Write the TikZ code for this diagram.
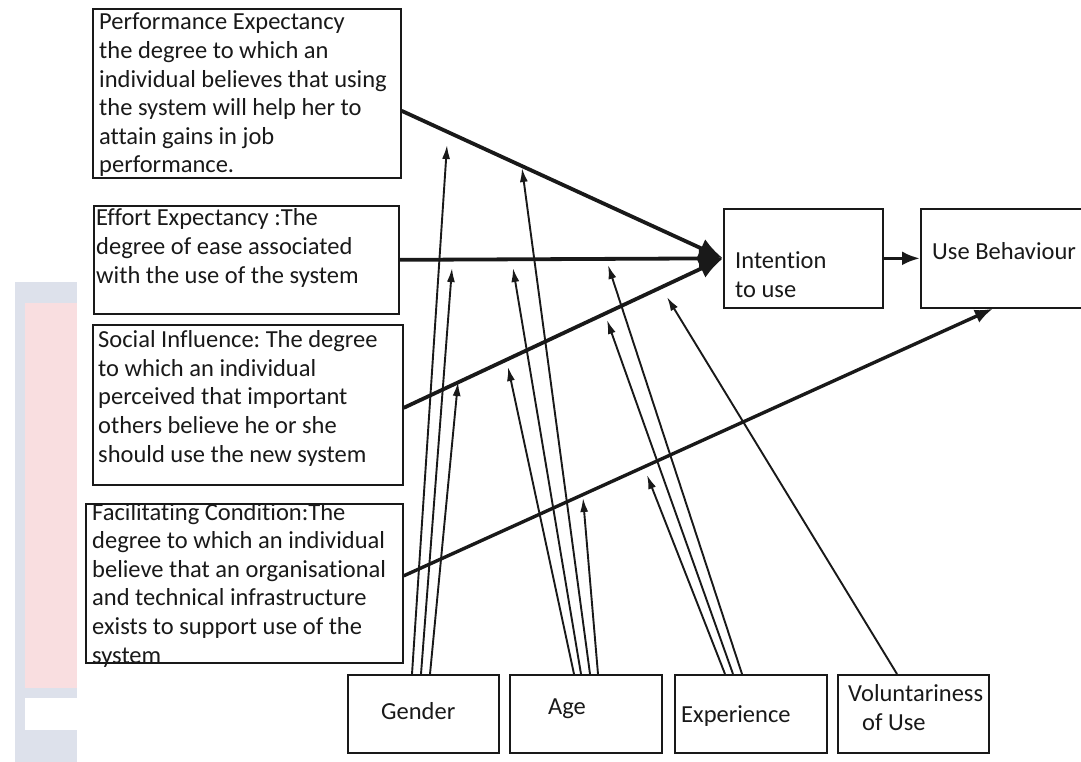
\documentclass[tikz,border=0pt]{standalone}
\usepackage{fontspec}
\setmainfont[Ligatures=NoCommon]{Carlito}
\usetikzlibrary{arrows.meta}
\definecolor{wmgray}{RGB}{221,225,235}
\definecolor{wmpink}{RGB}{249,222,224}
\definecolor{ink}{RGB}{25,25,25}
\frenchspacing
\begin{document}
\begin{tikzpicture}[x=1pt,y=-1pt,
  box/.style={draw=ink, line width=1.7pt, inner sep=0pt, anchor=north west},
  % multi-line texts are placed by the baseline of their last line
  txt/.style={anchor=base west, inner sep=0pt, text=ink, align=left,
              font=\fontsize{24.5}{28.6}\selectfont},
  mainarrow/.style={draw=ink, line width=3.8pt, -{Latex[length=24pt,width=20pt]}},
  sidearrow/.style={draw=ink, line width=3.4pt, -{Latex[length=18pt,width=14pt]}},
  modarrow/.style={draw=ink, line width=1.9pt, -{Latex[length=14pt,width=8pt]}}]

% page frame
\useasboundingbox (0,0) rectangle (1081,762);
\fill[white] (0,0) rectangle (1081,762);

% faint emblem at the left margin
\fill[wmgray] (15,282) rectangle (77,762);
\fill[wmpink] (25,303) rectangle (77,688);
\fill[white] (25,698) rectangle (77,730);

% determinant boxes
\node[box, minimum width=308, minimum height=169] (pe) at (92,8) {};
\node[box, minimum width=305, minimum height=108] (ee) at (93,205) {};
\node[box, minimum width=310, minimum height=160] (si) at (92,324) {};
\node[box, minimum width=317, minimum height=159] (fc) at (85,503) {};

% outcome boxes
\node[box, minimum width=159, minimum height=99] (int) at (723,208) {};
\node[box, minimum width=200, minimum height=99] (ub) at (920,208) {};

% moderator boxes
\node[box, minimum width=151, minimum height=78] (gender) at (347,674) {};
\node[box, minimum width=152, minimum height=78] (age) at (509,674) {};
\node[box, minimum width=152, minimum height=78] (exp) at (674,674) {};
\node[box, minimum width=151, minimum height=78] (vol) at (837,674) {};

% texts
\node[txt] (tpe) at (99,173) {Performance Expectancy\\the degree to which an\\individual believes that using\\the system will help her to\\attain gains in job\\performance.};
\node[txt] (tee) at (96,283) {Effort Expectancy :The\\degree of ease associated\\with the use of the system};
\node[txt] (tsi) at (98,462) {Social Influence: The degree\\to which an individual\\perceived that important\\others believe he or she\\should use the new system};
\node[txt] (tfc) at (92,663) {Facilitating Condition:The\\degree to which an individual\\believe that an organisational\\and technical infrastructure\\exists to support use of the\\system};
\node[txt] (tint) at (735,297) {Intention\\to use};
\node[txt] (tub) at (932,259) {Use Behaviour};
\node[txt] (tgen) at (381,719) {Gender};
\node[txt] (tage) at (548,714) {Age};
\node[txt] (texp) at (681,722) {Experience};
\node[txt] (tvol) at (848,730) {Voluntariness\\\hspace*{14pt}of Use};

% free ends of the moderator arrows
\coordinate (g1) at (447,145);
\coordinate (g2) at (452,268);
\coordinate (g3) at (458,382);
\coordinate (a1) at (508,367);
\coordinate (a2) at (513,268);
\coordinate (a3) at (522,168);
\coordinate (a4) at (583,498);
\coordinate (e1) at (647,475);
\coordinate (e2) at (607,320);
\coordinate (e3) at (608,265);
\coordinate (v1) at (667,297);

% moderator arrows
\draw[modarrow] ([xshift=65pt]gender.north west) -- (g1);
\draw[modarrow] ([xshift=74pt]gender.north west) -- (g2);
\draw[modarrow] ([xshift=83pt]gender.north west) -- (g3);
\draw[modarrow] ([xshift=65pt]age.north west) -- (a1);
\draw[modarrow] ([xshift=72pt]age.north west) -- (a2);
\draw[modarrow] ([xshift=81pt]age.north west) -- (a3);
\draw[modarrow] ([xshift=89pt]age.north west) -- (a4);
\draw[modarrow] ([xshift=51pt]exp.north west) -- (e1);
\draw[modarrow] ([xshift=59pt]exp.north west) -- (e2);
\draw[modarrow] ([xshift=68pt]exp.north west) -- (e3);
\draw[modarrow] ([xshift=60pt]vol.north west) -- (v1);

% main paths
\draw[mainarrow] ([yshift=-17.5pt]pe.east) -- (int.west);
\draw[mainarrow] (ee.east) -- (int.west);
\draw[mainarrow] ([yshift=-3pt]si.east) -- (int.west);
\draw[sidearrow] ([yshift=7.5pt]fc.east) -- ([xshift=-28pt]ub.south);
\draw[sidearrow] (int.east) -- (ub.west);
\end{tikzpicture}
\end{document}
